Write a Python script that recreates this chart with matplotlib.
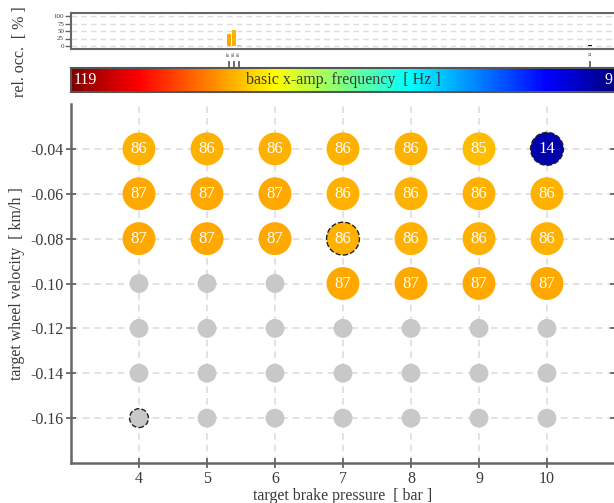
import matplotlib.pyplot as plt
import numpy as np
from matplotlib import cm, colors

plt.rcParams['font.family'] = ['Liberation Serif', 'DejaVu Serif']

# measurement grid
pressures = [4, 5, 6, 7, 8, 9, 10]
velocities = [-0.04, -0.06, -0.08, -0.10, -0.12, -0.14, -0.16]
# basic x-amp. frequency per (velocity row, pressure column), nan = no result
freq_004 = [86, 86, 86, 86, 86, 85, 14]
freq_006 = [87, 87, 87, 86, 86, 86, 86]
freq_008 = [87, 87, 87, 86, 86, 86, 86]
freq_010 = [np.nan, np.nan, np.nan, 87, 87, 87, 87]
freq_012 = [np.nan] * 7
freq_014 = [np.nan] * 7
freq_016 = [np.nan] * 7
freq_rows = [freq_004, freq_006, freq_008, freq_010, freq_012, freq_014, freq_016]
# highlighted points (pressure, velocity)
marked = [(10, -0.04), (7, -0.08), (4, -0.16)]

f_max, f_min = 119, 9

TXT = '#3a3a3a'
SPINE = '#666666'
GRID = '#dddddd'

# matlab style jet
t = np.linspace(0, 1, 256)
r = np.clip(1.5 - np.abs(4 * t - 3), 0, 1)
g = np.clip(1.5 - np.abs(4 * t - 2), 0, 1)
b = np.clip(1.5 - np.abs(4 * t - 1), 0, 1)
cmap = colors.ListedColormap(np.column_stack([r, g, b]))
norm = colors.Normalize(vmin=f_min, vmax=f_max)

fig = plt.figure(figsize=(6.14, 5.03), dpi=100)
W = 614.0
H = 503.0
ax = fig.add_axes([71 / W, 1 - 463 / H, 544 / W, 359 / H])
cax = fig.add_axes([71 / W, 1 - 92 / H, 544 / W, 24 / H])
hax = fig.add_axes([71 / W, 1 - 49 / H, 544 / W, 36 / H])

# main scatter
for vel, row in zip(velocities, freq_rows):
    for p, f in zip(pressures, row):
        hl = (p, vel) in marked
        if np.isnan(f):
            ax.scatter(p, vel, s=185, color='#c8c8c8', zorder=3,
                       edgecolors='#222222' if hl else 'none',
                       linewidths=1.0, linestyles='--' if hl else '-')
        else:
            ax.scatter(p, vel, s=560, color=cmap(norm(f)), zorder=3,
                       edgecolors='#222222' if hl else 'none',
                       linewidths=1.0, linestyles='--' if hl else '-')
            ax.text(p, vel, '%d' % f, color='white', fontsize=12,
                    ha='center', va='center', zorder=4)

ax.set_xlim(3, 11)
ax.set_ylim(-0.18, -0.02)
ax.set_xticks(pressures)
ax.set_yticks(velocities)
ax.set_yticklabels(['%.2f' % v for v in velocities])
ax.grid(True, color=GRID, linestyle=(0, (4, 3)), linewidth=1.2, zorder=0)
ax.set_axisbelow(True)
ax.tick_params(colors=SPINE, labelcolor=TXT, labelsize=11.5, direction='inout', length=7, width=1.3, pad=2)
ax.tick_params(axis='y', right=True)
for s in ax.spines.values():
    s.set_color(SPINE)
    s.set_linewidth(1.8)
ax.spines['top'].set_visible(False)
ax.spines['right'].set_visible(False)
ax.set_xlabel('target brake pressure  [ bar ]', color=TXT, fontsize=11.5, labelpad=1)
ax.set_ylabel('target wheel velocity  [ km/h ]', color=TXT, fontsize=11.5, labelpad=4)

# colorbar
sm = cm.ScalarMappable(norm=norm, cmap=cmap)
cb = fig.colorbar(sm, cax=cax, orientation='horizontal')
cax.set_xlim(f_max, f_min)
cb.outline.set_edgecolor('#555555')
cb.outline.set_linewidth(1.5)
vals = np.array([f for row in freq_rows for f in row if not np.isnan(f)])
uniq = np.unique(vals)
cax.xaxis.set_ticks_position('top')
cax.set_xticks(uniq)
cax.set_xticklabels(['%d' % u for u in uniq], rotation=90, fontsize=3.5, color=TXT)
cax.tick_params(axis='x', direction='out', length=5, width=1.2, colors='#555555', labelcolor=TXT, pad=4)
cax.text(0.004, 0.5, '%d' % f_max, transform=cax.transAxes, color='white', fontsize=11.5,
         ha='left', va='center')
cax.text(0.995, 0.5, '%d' % f_min, transform=cax.transAxes, color='white', fontsize=11.5,
         ha='right', va='center')
cax.text(0.5, 0.5, 'basic x-amp. frequency  [ Hz ]', transform=cax.transAxes, color=TXT,
         fontsize=11.5, ha='center', va='center')

# relative occurrence histogram
occ = [100.0 * np.sum(vals == u) / len(vals) for u in uniq]
hax.bar(uniq, occ, width=0.8, color=[cmap(norm(u)) for u in uniq], zorder=3)
hax.set_xlim(f_max, f_min)
hax.set_ylim(-10, 110)
hax.set_yticks([0, 25, 50, 75, 100])
hax.set_xticks([])
hax.yaxis.grid(True, color=GRID, linestyle=(0, (4, 3)), linewidth=1.0)
hax.tick_params(axis='y', labelsize=5, colors=SPINE, labelcolor=TXT, length=4, width=1.0, pad=1)
for s in hax.spines.values():
    s.set_color(SPINE)
    s.set_linewidth(1.5)
hax.spines['right'].set_visible(False)
fig.text(20 / W, 1 - 52 / H, 'rel. occ.  [ % ]', rotation=90, color=TXT, fontsize=11.5,
         ha='center', va='center')

fig.savefig('out.png', dpi=100)
